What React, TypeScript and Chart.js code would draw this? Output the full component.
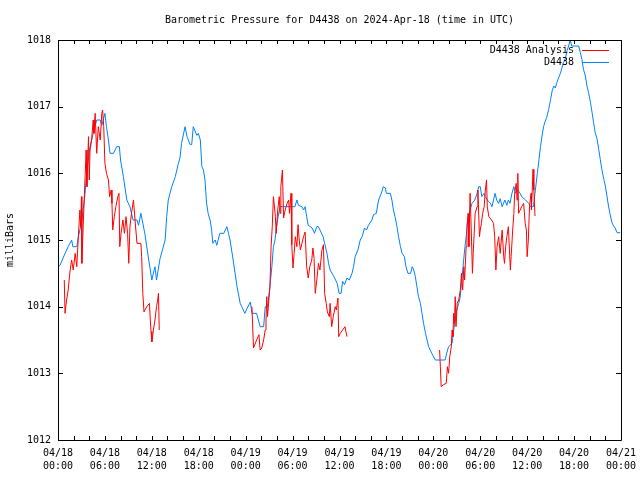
import React, { useEffect, useRef } from "react";
import { Chart, registerables } from "chart.js";

Chart.register(...registerables);

const FONT = "'DejaVu Sans Mono', 'Liberation Mono', monospace";

const titleText = "Barometric Pressure for D4438 on 2024-Apr-18 (time in UTC)";
const yAxisTitle = "milliBars";
const seriesNames = ["D4438 Analysis", "D4438"];
const seriesColors = ["#ff0000", "#0080ff"];

const tickDates = ["04/18", "04/18", "04/18", "04/18", "04/19", "04/19", "04/19", "04/19", "04/20", "04/20", "04/20", "04/20", "04/21"];
const tickTimes = ["00:00", "06:00", "12:00", "18:00", "00:00", "06:00", "12:00", "18:00", "00:00", "06:00", "12:00", "18:00", "00:00"];

// hours since 04/18 00:00 UTC
const stationHours = [
  0.0, 0.26, 0.9, 1.3, 1.75, 1.9, 2.4, 2.6, 3.0, 3.46, 3.7, 4.1, 4.5, 4.95, 5.4, 5.6, 6.0, 6.2, 6.45, 6.65,
  7.1, 7.5, 7.85, 8.0, 8.36, 8.8, 9.2, 9.6, 10.1, 10.3, 10.6, 11.1, 11.6, 12.0, 12.4, 12.6, 13.05, 13.7, 13.9, 14.1,
  14.55, 15.0, 15.4, 15.6, 15.8, 16.25, 16.5, 16.9, 17.1, 17.3, 17.75, 17.95, 18.2, 18.4, 18.6, 18.8, 19.0, 19.2, 19.45, 19.65,
  19.8, 20.1, 20.3, 20.7, 21.2, 21.6, 21.8, 22.0, 22.4, 22.9, 23.3, 23.5, 23.7, 23.9, 24.2, 24.6, 24.8, 25.4, 25.85, 26.3,
  26.5, 26.8, 27.1, 27.35, 27.55, 27.75, 27.95, 28.15, 28.4, 29.05, 29.7, 30.3, 30.55, 30.75, 31.2, 31.4, 31.6, 31.8, 32.0, 32.5,
  32.8, 33.1, 33.3, 33.5, 33.9, 34.1, 34.4, 34.6, 34.8, 35.2, 35.5, 35.7, 35.95, 36.2, 36.4, 36.65, 36.95, 37.25, 37.6, 37.8,
  38.0, 38.35, 38.65, 38.9, 39.2, 39.45, 39.7, 40.15, 40.35, 40.7, 41.0, 41.35, 41.6, 41.85, 42.0, 42.5, 42.7, 42.9, 43.1, 43.35,
  43.55, 43.8, 44.0, 44.3, 44.5, 44.75, 45.1, 45.3, 45.5, 45.7, 45.9, 46.1, 46.35, 46.55, 46.75, 47.0, 47.2, 47.4, 47.8, 48.25,
  48.9, 49.5, 49.75, 49.95, 50.4, 50.6, 50.8, 51.0, 51.25, 51.45, 51.6, 51.8, 52.0, 52.2, 52.4, 52.7, 52.95, 53.3, 53.6, 53.8,
  54.0, 54.2, 54.5, 54.65, 54.9, 55.3, 55.5, 55.9, 56.1, 56.35, 56.55, 56.8, 57.15, 57.4, 57.6, 57.8, 58.05, 58.3, 58.5, 58.8,
  59.1, 59.3, 59.8, 60.2, 60.4, 60.8, 61.05, 61.3, 61.5, 61.7, 61.9, 62.1, 62.3, 62.5, 62.75, 63.0, 63.2, 63.4, 63.6, 63.8,
  64.0, 64.25, 64.45, 64.65, 64.9, 65.1, 65.3, 65.5, 65.7, 66.6, 66.8, 67.0, 67.2, 67.45, 67.65, 67.85, 68.1, 68.3, 68.5, 68.7,
  68.95, 69.15, 69.35, 69.55, 69.8, 70.0, 70.2, 70.4, 70.65, 70.85, 71.05, 71.25, 71.5, 71.9,
];
const stationPressure = [
  1014.6, 1014.62, 1014.8, 1014.9, 1015.0, 1014.9, 1014.9, 1015.05, 1015.25, 1015.7, 1016.05, 1016.4, 1016.6, 1016.8, 1016.8, 1016.72, 1016.9, 1016.7, 1016.5, 1016.3,
  1016.3, 1016.4, 1016.4, 1016.2, 1015.95, 1015.6, 1015.5, 1015.3, 1015.3, 1015.22, 1015.4, 1015.1, 1014.7, 1014.4, 1014.6, 1014.4, 1014.72, 1015.0, 1015.35, 1015.6,
  1015.8, 1015.95, 1016.15, 1016.23, 1016.45, 1016.7, 1016.55, 1016.43, 1016.43, 1016.7, 1016.57, 1016.6, 1016.5, 1016.1, 1016.05, 1015.9, 1015.55, 1015.4, 1015.3, 1015.15,
  1014.95, 1015.0, 1014.92, 1015.1, 1015.1, 1015.2, 1015.1, 1015.0, 1014.7, 1014.3, 1014.05, 1014.0, 1013.95, 1013.9, 1013.98, 1014.07, 1013.9, 1013.9, 1013.7, 1013.7,
  1014.0, 1014.0, 1014.3, 1014.6, 1014.9, 1015.0, 1015.2, 1015.35, 1015.5, 1015.5, 1015.5, 1015.5, 1015.6, 1015.52, 1015.5, 1015.45, 1015.5, 1015.35, 1015.22, 1015.18,
  1015.1, 1015.2, 1015.2, 1015.15, 1015.05, 1014.95, 1014.8, 1014.65, 1014.55, 1014.47, 1014.4, 1014.35, 1014.2, 1014.2, 1014.38, 1014.33, 1014.43, 1014.4, 1014.5, 1014.6,
  1014.75, 1014.85, 1015.0, 1015.05, 1015.18, 1015.15, 1015.22, 1015.3, 1015.38, 1015.4, 1015.6, 1015.7, 1015.8, 1015.78, 1015.7, 1015.7, 1015.6, 1015.45, 1015.35, 1015.2,
  1015.05, 1014.9, 1014.8, 1014.75, 1014.6, 1014.5, 1014.5, 1014.6, 1014.55, 1014.45, 1014.3, 1014.15, 1014.05, 1013.9, 1013.75, 1013.6, 1013.5, 1013.4, 1013.3, 1013.2,
  1013.2, 1013.2, 1013.32, 1013.4, 1013.45, 1013.65, 1013.8, 1013.95, 1014.05, 1014.15, 1014.35, 1014.6, 1014.85, 1015.05, 1015.3, 1015.45, 1015.55, 1015.6, 1015.7, 1015.8,
  1015.8, 1015.65, 1015.7, 1015.65, 1015.6, 1015.55, 1015.5, 1015.7, 1015.6, 1015.55, 1015.62, 1015.5, 1015.6, 1015.52, 1015.6, 1015.55, 1015.7, 1015.8, 1015.7, 1015.75,
  1015.7, 1015.65, 1015.6, 1015.55, 1015.5, 1015.5, 1015.75, 1016.0, 1016.2, 1016.4, 1016.56, 1016.7, 1016.78, 1016.84, 1016.96, 1017.11, 1017.24, 1017.31, 1017.28, 1017.36,
  1017.43, 1017.5, 1017.58, 1017.66, 1017.73, 1017.84, 1017.91, 1018.0, 1017.91, 1017.91, 1017.81, 1017.71, 1017.56, 1017.46, 1017.31, 1017.21, 1017.06, 1016.91, 1016.76, 1016.61,
  1016.51, 1016.36, 1016.21, 1016.06, 1015.91, 1015.81, 1015.66, 1015.51, 1015.36, 1015.26, 1015.21, 1015.18, 1015.11, 1015.11,
];

// analysis series: three runs separated by gaps (null)
const analysisHours = [
  0.8, 0.9, 1.1, 1.3, 1.55, 1.75, 1.95, 2.2, 2.4, 2.6, 2.8, 2.9, 3.0, 3.05, 3.25, 3.6, 3.7, 3.9, 4.0, 4.1,
  4.3, 4.5, 4.6, 4.75, 4.95, 5.15, 5.4, 5.6, 5.7, 5.85, 6.0, 6.2, 6.45, 6.6, 6.8, 6.9, 7.0, 7.2, 7.4, 7.65,
  7.8, 7.9, 8.07, 8.3, 8.5, 8.7, 8.9, 9.05, 9.2, 9.4, 9.65, 9.85, 10.1, 10.6, 10.7, 10.85, 11.0, 11.35, 11.7, 11.8,
  11.9, 12.0, 12.2, 12.4, 12.6, 12.75, 12.85, 12.95,
  18.0,
  24.8, 25.0, 25.4, 25.7, 25.85, 26.05, 26.3, 26.5, 26.6, 26.7, 26.8, 27.1, 27.25, 27.4, 27.55, 27.8, 27.9, 28.1, 28.3, 28.4,
  28.5, 28.7, 28.85, 29.05, 29.3, 29.5, 29.6, 29.8, 29.9, 30.05, 30.2, 30.35, 30.55, 30.7, 30.85, 31.0, 31.2, 31.4, 31.6, 31.8,
  32.0, 32.2, 32.45, 32.6, 32.75, 32.9, 33.1, 33.3, 33.5, 33.75, 33.95, 34.1, 34.3, 34.45, 34.7, 34.8, 35.0, 35.2, 35.45, 35.6,
  35.8, 35.9, 36.1, 36.4, 36.7, 36.95,
  42.0,
  48.8, 48.9, 49.0, 49.3, 49.65, 49.8, 49.95, 50.1, 50.3, 50.4, 50.5, 50.6, 50.7, 50.8, 50.9, 51.05, 51.25, 51.45, 51.6, 51.75,
  51.9, 52.0, 52.2, 52.3, 52.45, 52.55, 52.7, 52.85, 53.0, 53.1, 53.35, 53.6, 53.7, 53.9, 54.0, 54.15, 54.3, 54.5, 54.65, 54.8,
  54.9, 55.1, 55.45, 55.7, 55.85, 56.0, 56.15, 56.35, 56.55, 56.8, 57.0, 57.1, 57.25, 57.4, 57.6, 57.85, 57.95, 58.15, 58.3, 58.4,
  58.6, 58.7, 58.8, 58.9, 59.1, 59.3, 59.55, 59.75, 59.9, 60.0, 60.15, 60.3, 60.5, 60.55, 60.75, 60.85, 61.0,
];
const analysisPressure = [
  1014.4, 1013.9, 1014.1, 1014.25, 1014.55, 1014.7, 1014.55, 1014.8, 1014.6, 1015.05, 1015.45, 1015.2, 1015.65, 1014.65, 1015.3, 1016.35, 1015.8, 1016.55, 1015.9, 1016.35,
  1016.5, 1016.8, 1016.6, 1016.9, 1016.3, 1016.7, 1016.5, 1016.9, 1016.95, 1016.7, 1016.15, 1016.0, 1015.9, 1015.65, 1015.75, 1015.55, 1015.15, 1015.35, 1015.5, 1015.65,
  1015.7, 1014.9, 1015.1, 1015.3, 1015.1, 1015.35, 1015.1, 1014.65, 1015.2, 1015.4, 1015.6, 1015.3, 1014.95, 1014.95, 1014.75, 1014.2, 1013.92, 1014.0, 1014.05, 1013.8,
  1013.63, 1013.47, 1013.65, 1013.8, 1014.0, 1014.1, 1014.2, 1013.65,
  null,
  1014.0, 1013.38, 1013.5, 1013.58, 1013.35, 1013.38, 1013.5, 1013.65, 1013.8, 1014.15, 1013.85, 1014.3, 1014.9, 1015.2, 1015.65, 1015.35, 1015.1, 1015.45, 1015.65, 1015.4,
  1015.8, 1016.05, 1015.33, 1015.45, 1015.55, 1015.6, 1015.4, 1015.7, 1014.93, 1014.58, 1014.8, 1015.05, 1014.9, 1015.23, 1015.0, 1014.85, 1014.95, 1015.05, 1015.12, 1014.6,
  1014.43, 1014.6, 1014.7, 1014.88, 1014.72, 1014.2, 1014.4, 1014.65, 1014.55, 1014.85, 1014.93, 1014.2, 1014.05, 1013.92, 1013.85, 1014.05, 1013.7, 1013.85, 1014.0, 1013.95,
  1014.13, 1013.55, 1013.6, 1013.65, 1013.7, 1013.55,
  null,
  1013.35, 1013.1, 1012.8, 1012.83, 1012.85, 1013.1, 1013.0, 1013.25, 1013.4, 1013.65, 1013.55, 1013.9, 1013.75, 1014.15, 1013.7, 1014.05, 1014.1, 1014.25, 1014.5, 1014.25,
  1014.6, 1014.4, 1014.9, 1015.2, 1015.4, 1014.9, 1015.7, 1015.15, 1014.5, 1014.8, 1015.4, 1015.5, 1015.75, 1015.05, 1015.15, 1015.25, 1015.4, 1015.5, 1015.75, 1015.9,
  1015.5, 1015.35, 1015.3, 1015.25, 1015.05, 1014.55, 1014.9, 1015.05, 1014.8, 1015.15, 1014.75, 1014.65, 1014.9, 1015.05, 1015.2, 1014.55, 1014.75, 1015.15, 1015.4, 1015.7,
  1015.85, 1015.6, 1016.0, 1015.4, 1015.45, 1015.5, 1015.55, 1015.25, 1015.15, 1014.75, 1015.0, 1015.5, 1015.7, 1015.45, 1016.06, 1015.75, 1015.36,
];

const frameAndLegend = {
  id: "frameAndLegend",
  afterDatasetsDraw(chart: any) {
    const { ctx, chartArea } = chart;
    const { left, right, top, bottom } = chartArea;
    const xs = chart.scales.x;
    const ys = chart.scales.y;
    ctx.save();
    ctx.strokeStyle = "#000";
    ctx.lineWidth = 1;
    ctx.beginPath();
    ctx.rect(Math.round(left) + 0.5, Math.round(top) + 0.5, Math.round(right - left), Math.round(bottom - top));
    xs.ticks.forEach((t: any) => {
      const px = Math.round(xs.getPixelForValue(t.value)) + 0.5;
      ctx.moveTo(px, bottom);
      ctx.lineTo(px, bottom - 4);
      ctx.moveTo(px, top);
      ctx.lineTo(px, top + 4);
    });
    ys.ticks.forEach((t: any) => {
      const py = Math.round(ys.getPixelForValue(t.value)) + 0.5;
      ctx.moveTo(left, py);
      ctx.lineTo(left + 5, py);
      ctx.moveTo(right, py);
      ctx.lineTo(right - 5, py);
    });
    ctx.stroke();

    // legend inside top-right
    ctx.font = "10px " + FONT;
    ctx.textAlign = "right";
    ctx.textBaseline = "middle";
    chart.data.datasets.forEach((ds: any, i: number) => {
      const y = top + 10 + i * 12;
      ctx.fillStyle = "#000";
      ctx.fillText(ds.label, right - 47, y);
      ctx.strokeStyle = ds.borderColor;
      ctx.beginPath();
      ctx.moveTo(right - 39, Math.round(y) + 0.5);
      ctx.lineTo(right - 12, Math.round(y) + 0.5);
      ctx.stroke();
    });
    ctx.restore();
  },
};

export default function App() {
  const ref = useRef<HTMLCanvasElement | null>(null);
  useEffect(() => {
    if (!ref.current) return;
    const analysisData = analysisHours.map((h, i) => ({ x: h, y: analysisPressure[i] }));
    const stationData = stationHours.map((h, i) => ({ x: h, y: stationPressure[i] }));
    const chart = new Chart(ref.current, {
      type: "line",
      data: {
        datasets: [
          {
            label: seriesNames[0],
            data: analysisData as any,
            borderColor: seriesColors[0],
            borderWidth: 1,
            pointRadius: 0,
            tension: 0,
            spanGaps: false,
            fill: false,
          },
          {
            label: seriesNames[1],
            data: stationData as any,
            borderColor: seriesColors[1],
            borderWidth: 1,
            pointRadius: 0,
            tension: 0,
            fill: false,
          },
        ],
      },
      options: {
        animation: false,
        responsive: false,
        devicePixelRatio: 1,
        layout: { autoPadding: false, padding: { left: 0, right: 19, top: 0, bottom: 0 } },
        plugins: {
          legend: { display: false },
          tooltip: { enabled: false },
          title: {
            display: true,
            text: titleText,
            color: "#000",
            fullSize: false,
            font: { family: FONT, size: 10, weight: "normal" },
            padding: { top: 14, bottom: 14 },
          },
        },
        scales: {
          x: {
            type: "linear",
            min: 0,
            max: 72,
            grid: { display: false, drawTicks: false },
            border: { display: false },
            afterFit: (s: any) => {
              s.height = 40;
              s.paddingLeft = 0;
              s.paddingRight = 0;
            },
            ticks: {
              stepSize: 2,
              autoSkip: false,
              maxRotation: 0,
              padding: 7,
              color: "#000",
              font: { family: FONT, size: 10, lineHeight: 1.3 },
              callback: (v: any) => {
                const n = Number(v);
                if (n % 6 !== 0) return "";
                const k = n / 6;
                return [tickDates[k], tickTimes[k]];
              },
            },
          },
          y: {
            min: 1012,
            max: 1018,
            grid: { display: false, drawTicks: false },
            border: { display: false },
            afterFit: (s: any) => {
              s.width = 58;
              s.paddingTop = 0;
              s.paddingBottom = 0;
            },
            title: {
              display: true,
              text: yAxisTitle,
              color: "#000",
              font: { family: FONT, size: 10, lineHeight: 1.2 },
              padding: { top: 4, bottom: 0 },
            },
            ticks: {
              stepSize: 1,
              padding: 7,
              color: "#000",
              font: { family: FONT, size: 10 },
              callback: (v: any) => String(v),
            },
          },
        },
      },
      plugins: [frameAndLegend],
    });
    return () => chart.destroy();
  }, []);
  return (
    <div style={{ position: "absolute", left: 0, top: 0, width: 640, height: 480, background: "#fff" }}>
      <canvas ref={ref} width={640} height={480} style={{ display: "block" }} />
    </div>
  );
}
